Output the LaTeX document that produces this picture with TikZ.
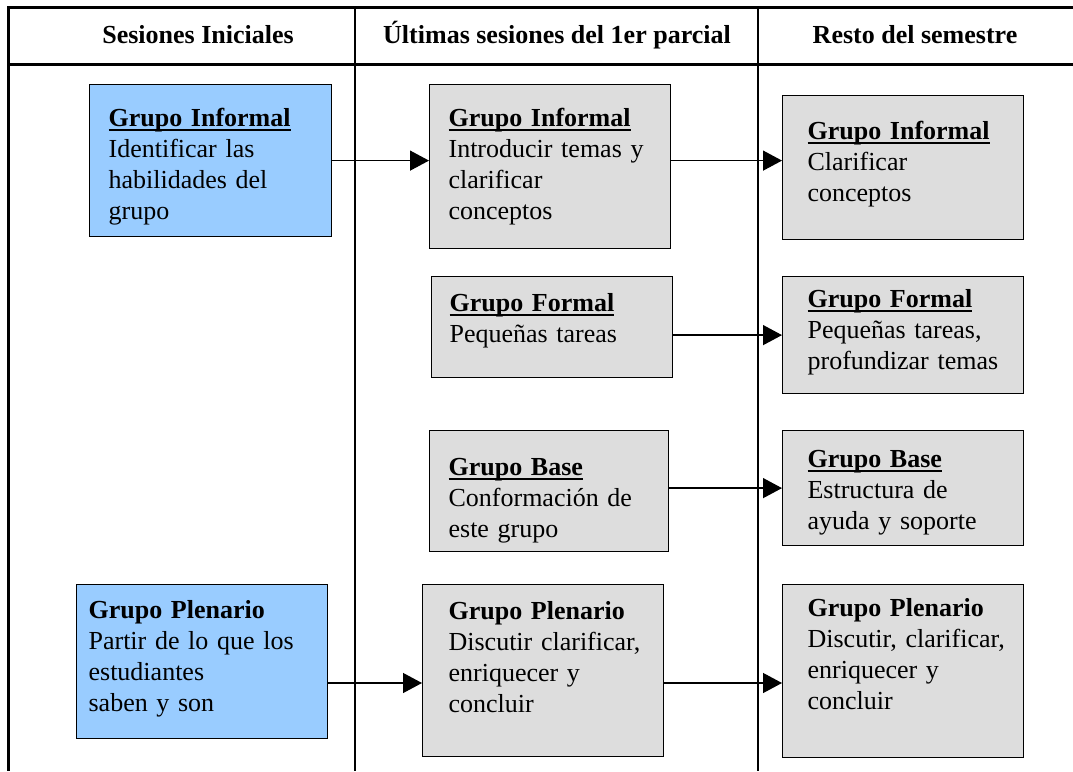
\documentclass[tikz,border=0pt]{standalone}
\usepackage{fontspec}
\setmainfont{Liberation Serif}
\usepackage{tikz}
\usetikzlibrary{positioning}
\usetikzlibrary{arrows.meta}

\definecolor{azulgrupo}{HTML}{99CCFF}
\definecolor{grisgrupo}{HTML}{DDDDDD}

\newcommand{\subrayado}[1]{\setbox0\hbox{\textbf{#1}}\rlap{\rule[-4pt]{\wd0}{1.8pt}}\box0}

\tikzset{
	grupo/.style={draw, line width=1.2pt, anchor=north west, align=left, inner ysep=0pt,
		font=\fontsize{26}{31}\selectfont},
	titulo/.style={anchor=base, font=\fontsize{26}{31}\selectfont\bfseries},
	flecha/.style={line width=1.3pt, -{Triangle[length=19pt,width=20pt]}}
}

\begin{document}
\begin{tikzpicture}[x=1pt, y=-1pt]
	\useasboundingbox (0,0) rectangle (1073,771);

	% tabla
	\draw[line width=3pt] (1073,7) -- (8,7) -- (8,771);
	\draw[line width=3pt] (8,64) -- (1073,64);
	\draw[line width=1.3pt] (355,7) -- (355,771);
	\draw[line width=1.3pt] (758,7) -- (758,771);

	\node[titulo] (col1) at (198,43) {Sesiones Iniciales};
	\node[titulo] (col2) at (557,43) {Últimas sesiones del 1er parcial};
	\node[titulo] (col3) at (915,43) {Resto del semestre};

	% sesiones iniciales
	\node[grupo, fill=azulgrupo, text width=204pt, inner xsep=19pt, text height=42pt, text depth=110pt] (iniInf) at (89,84)
		{\subrayado{Grupo Informal}\\Identificar las\\habilidades del\\grupo};
	\node[grupo, fill=azulgrupo, text width=227pt, inner xsep=12pt, text height=34pt, text depth=120pt] (iniPlen) at (76,584)
		{\textbf{Grupo Plenario}\\Partir de lo que los\\estudiantes\\saben y son};

	% ultimas sesiones del 1er parcial
	\node[grupo, fill=grisgrupo, text width=203pt, inner xsep=19pt, text height=42pt, text depth=122pt] (midInf) at (429,84)
		{\subrayado{Grupo Informal}\\Introducir temas y\\clarificar\\conceptos};
	\node[grupo, fill=grisgrupo, text width=205pt, inner xsep=18pt, text height=35pt, text depth=66pt] (midFor) at (431,276)
		{\subrayado{Grupo Formal}\\Pequeñas tareas};
	\node[grupo, fill=grisgrupo, text width=201pt, inner xsep=19pt, text height=45pt, text depth=76pt] (midBase) at (429,430)
		{\subrayado{Grupo Base}\\Conformación de\\este grupo};
	\node[grupo, fill=grisgrupo, text width=189pt, inner xsep=26pt, text height=35pt, text depth=137pt] (midPlen) at (422,584)
		{\textbf{Grupo Plenario}\\\mbox{Discutir clarificar,}\\enriquecer y\\concluir};

	% resto del semestre
	\node[grupo, fill=grisgrupo, text width=191pt, inner xsep=25pt, text height=44pt, text depth=100pt] (endInf) at (782,95)
		{\subrayado{Grupo Informal}\\Clarificar\\conceptos};
	\node[grupo, fill=grisgrupo, text width=191pt, inner xsep=25pt, text height=31pt, text depth=86pt] (endFor) at (782,276)
		{\subrayado{Grupo Formal}\\Pequeñas tareas,\\\mbox{profundizar temas}};
	\node[grupo, fill=grisgrupo, text width=191pt, inner xsep=25pt, text height=37pt, text depth=78pt] (endBase) at (782,430)
		{\subrayado{Grupo Base}\\Estructura de\\ayuda y soporte};
	\node[grupo, fill=grisgrupo, text width=191pt, inner xsep=25pt, text height=32pt, text depth=141pt] (endPlen) at (782,584)
		{\textbf{Grupo Plenario}\\\mbox{Discutir, clarificar,}\\enriquecer y\\concluir};

	\coordinate (nivelPlen) at (0,683);

	\draw[flecha] (iniInf.east) -- (iniInf.east -| midInf.west);
	\draw[flecha] (midInf.east |- iniInf.east) -- (iniInf.east -| endInf.west);
	\draw[flecha] (midFor.east |- endFor.west) -- (endFor.west);
	\draw[flecha] (midBase.east |- endBase.west) -- (endBase.west);
	\draw[flecha] (iniPlen.east |- nivelPlen) -- (midPlen.west |- nivelPlen);
	\draw[flecha] (midPlen.east |- nivelPlen) -- (endPlen.west |- nivelPlen);
\end{tikzpicture}
\end{document}
